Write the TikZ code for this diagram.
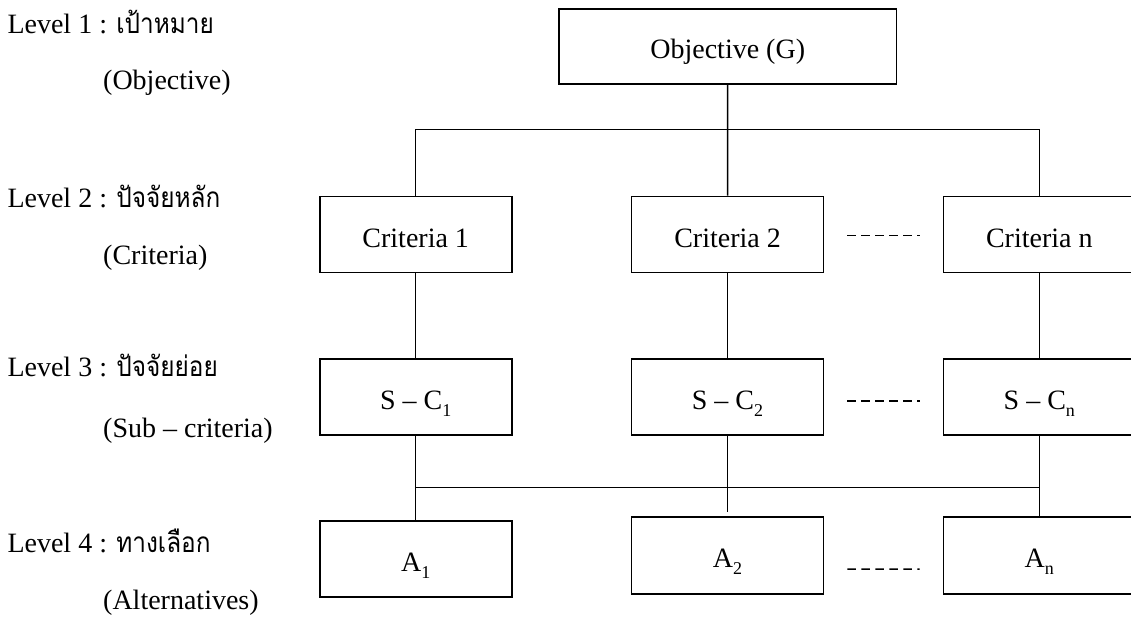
\documentclass[tikz,border=0pt]{standalone}
\usepackage{fontspec}
\setmainfont{Liberation Serif}
\newfontfamily\thaifont[Script=Thai,FakeStretch=0.87]{Loma}
\newcommand{\thai}[1]{{\thaifont #1}}
\newcommand{\sbs}[1]{\raisebox{-7pt}{\fontsize{18}{18}\selectfont #1}}
\begin{document}
\begin{tikzpicture}[x=1pt,y=-1pt,
  every node/.style={font=\fontsize{28}{32}\selectfont},
  box/.style={draw, line width=1.6pt, minimum width=192pt, minimum height=76pt, inner sep=0pt, anchor=north, text height=25pt, text depth=0pt},
  lbl/.style={anchor=base west, inner sep=0pt},
  conn/.style={line width=1.5pt},
  dots/.style={line width=1.5pt, dash pattern=on 8.5pt off 5.5pt}]
\useasboundingbox (0,0) rectangle (1131,616);

% left labels
\node[lbl] (l1) at (7.3,33.3) {Level 1 : \thai{เป้าหมาย}};
\node[lbl] (l1e) at (103,89) {(Objective)};
\node[lbl] (l2) at (7.3,207.3) {Level 2 : \thai{ปัจจัยหลัก}};
\node[lbl] (l2e) at (103,264) {(Criteria)};
\node[lbl] (l3) at (7.3,376.7) {Level 3 : \thai{ปัจจัยย่อย}};
\node[lbl] (l3e) at (103,437) {(Sub -- criteria)};
\node[lbl] (l4) at (7.3,552.7) {Level 4 : \thai{ทางเลือก}};
\node[lbl] (l4e) at (103,609) {(Alternatives)};

% boxes
\node[box, minimum width=337.4pt, minimum height=75pt] (obj) at (727.7,8) {Objective (G)};
\node[box] (c1) at (415.7,195.7) {Criteria 1};
\node[box] (c2) at (727.5,195.7) {Criteria 2};
\node[box] (cn) at (1039.3,195.7) {Criteria n};
\node[box] (s1) at (415.7,358.3) {S -- C\sbs{1}};
\node[box] (s2) at (727.5,358.3) {S -- C\sbs{2}};
\node[box] (sn) at (1039.3,358.3) {S -- C\sbs{n}};
\node[box] (a1) at (415.7,520) {A\sbs{1}};
\node[box, minimum height=77.3pt] (a2) at (727.5,516) {A\sbs{2}};
\node[box, minimum height=77pt] (an) at (1039.3,516) {A\sbs{n}};

% connectors
\coordinate (top) at (727.5,129.5);
\coordinate (bot) at (727.5,487.7);
\coordinate (a2stub) at (727.5,511.7);
\draw[conn] (obj.south) -- (c2.north);
\draw[conn] (c1.north) |- (top) -| (cn.north);
\draw[conn] (c1) -- (s1);
\draw[conn] (c2) -- (s2);
\draw[conn] (cn) -- (sn);
\draw[conn] (s1) -- (a1);
\draw[conn] (sn) -- (an);
\draw[conn] (s2.south) -- (a2stub);
\draw[conn] (s1.south |- bot) -- (sn.south |- bot);

% dotted continuation marks
\draw[dots] ([xshift=23pt,yshift=-1pt]c2.east) -- ([xshift=-23pt,yshift=-1pt]cn.west);
\draw[dots] ([xshift=23pt,yshift=-4pt]s2.east) -- ([xshift=-23pt,yshift=-4pt]sn.west);
\draw[dots] ([xshift=23pt,yshift=-13.7pt]a2.east) -- ([xshift=-23pt,yshift=-13.7pt]an.west);
\end{tikzpicture}
\end{document}
